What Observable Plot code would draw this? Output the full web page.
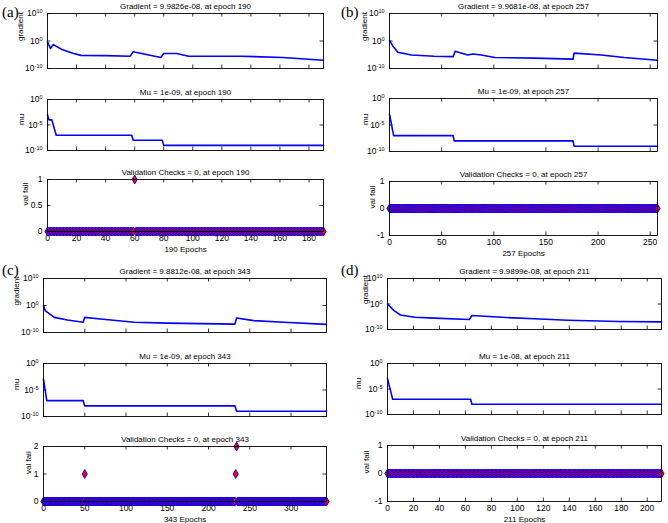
<!DOCTYPE html>
<html><head><meta charset="utf-8">
<script src="https://cdn.jsdelivr.net/npm/d3@7"></script>
<script src="https://cdn.jsdelivr.net/npm/@observablehq/plot@0.6"></script>
<style>
body{margin:0;background:#fff;}
#chart{position:relative;width:668px;height:523px;overflow:hidden;background:#fff;}
#chart svg{position:absolute;}
.plabel{position:absolute;font-family:"Liberation Serif","Times New Roman",serif;font-size:15px;color:#000;line-height:1;}
</style></head><body><div id="chart"></div>
<script>
// ---------------- data ----------------
const panelLetters = ["(a)", "(b)", "(c)", "(d)"];
const totalEpochs = [190, 257, 343, 211];
const epochTicksA = [0, 20, 40, 60, 80, 100, 120, 140, 160, 180];
const epochTicksB = [0, 50, 100, 150, 200, 250];
const epochTicksC = [0, 50, 100, 150, 200, 250, 300];
const epochTicksD = [0, 20, 40, 60, 80, 100, 120, 140, 160, 180, 200];
const logTicksGrad = [1e-10, 1, 1e10];
const logTicksMu = [1e-10, 1e-5, 1];

const gradTitles = ["Gradient = 9.9826e-08, at epoch 190", "Gradient = 9.9681e-08, at epoch 257", "Gradient = 9.8812e-08, at epoch 343", "Gradient = 9.9899e-08, at epoch 211"];
const muTitles = ["Mu = 1e-09, at epoch 190", "Mu = 1e-09, at epoch 257", "Mu = 1e-09, at epoch 343", "Mu = 1e-08, at epoch 211"];
const valTitles = ["Validation Checks = 0, at epoch 190", "Validation Checks = 0, at epoch 257", "Validation Checks = 0, at epoch 343", "Validation Checks = 0, at epoch 211"];
const epochLabels = ["190 Epochs", "257 Epochs", "343 Epochs", "211 Epochs"];

// gradient curves (epoch, gradient)
const gradEpochsA = [0, 2, 4, 10, 18, 23, 40, 57, 59, 78, 80, 89, 97, 133, 162, 190];
const gradValuesA = [5e-1, 2e-3, 5e-2, 8e-4, 3e-5, 6e-6, 5e-6, 3e-6, 1.3e-4, 1e-6, 3e-5, 3e-5, 3e-6, 3e-6, 1e-6, 9.98e-8];
const gradEpochsB = [0, 3, 8, 21, 43, 61, 63, 75, 80, 88, 101, 139, 176, 177, 203, 225, 257];
const gradValuesB = [1.6, 2e-2, 8e-5, 8e-6, 3e-6, 2e-6, 2e-4, 8e-6, 2e-5, 8e-6, 1e-6, 6e-7, 2.5e-7, 4e-5, 8e-6, 1e-6, 9.97e-8];
const gradEpochsC = [0, 2, 13, 29, 48, 50, 69, 110, 150, 190, 232, 234, 255, 291, 343];
const gradValuesC = [1, 1.3e-2, 4e-5, 4e-6, 6e-7, 4e-5, 1e-5, 6e-7, 3e-7, 2e-7, 1.3e-7, 2.5e-5, 2.5e-6, 6e-7, 9.88e-8];
const gradEpochsD = [0, 5, 10, 21, 36, 63, 65, 88, 113, 139, 178, 211];
const gradValuesD = [1, 2.5e-3, 5e-5, 6e-6, 3e-6, 8e-7, 3e-5, 6e-6, 1.6e-6, 4e-7, 1.3e-7, 9.99e-8];

// mu curves (epoch, mu)
const muEpochsA = [0, 1, 3, 4, 5, 6, 58, 59, 79, 80, 190];
const muValuesA = [1e-3, 1e-4, 1e-4, 1e-5, 1e-6, 1e-7, 1e-7, 1e-8, 1e-8, 1e-9, 1e-9];
const muEpochsB = [0, 1, 2, 3, 4, 61, 62, 176, 177, 257];
const muValuesB = [1e-3, 1e-4, 1e-5, 1e-6, 1e-7, 1e-7, 1e-8, 1e-8, 1e-9, 1e-9];
const muEpochsC = [0, 1, 2, 3, 4, 48, 50, 232, 234, 343];
const muValuesC = [1e-3, 1e-4, 1e-5, 1e-6, 1e-7, 1e-7, 1e-8, 1e-8, 1e-9, 1e-9];
const muEpochsD = [0, 1, 2, 3, 4, 64, 65, 211];
const muValuesD = [1e-3, 1e-4, 1e-5, 1e-6, 1e-7, 1e-7, 1e-8, 1e-8];

// validation failures (all other epochs are 0)
const valFailEpochsA = [60];
const valFailValuesA = [1];
const valFailEpochsB = [];
const valFailValuesB = [];
const valFailEpochsC = [50, 233, 234];
const valFailValuesC = [1, 1, 2];
const valFailEpochsD = [];
const valFailValuesD = [];
const valTicksA = [0, 0.5, 1];
const valTicksB = [-1, 0, 1];
const valTicksC = [0, 1, 2];
const valTicksD = [-1, 0, 1];

// ---------------- layout ----------------
const frames = [
  {grad: [47, 13, 323, 68], mu: [47, 99, 323, 150], val: [47, 179, 323, 231], ylab: [-27, -26.5, -22], lab: [2, 5]},
  {grad: [389, 13, 657, 68], mu: [389, 98, 657, 151], val: [389, 181, 657, 235], ylab: [-25, -24.5, -17], lab: [341, 5]},
  {grad: [43, 278, 326, 332], mu: [43, 363, 326, 416], val: [43, 446, 326, 501], ylab: [-27.5, -27.5, -15], lab: [2, 263]},
  {grad: [387, 278, 661, 329], mu: [387, 363, 661, 414], val: [387, 445, 661, 501], ylab: [-22.5, -29.5, -21.5], lab: [341, 263]}
];

const FONT = "'Liberation Sans', Arial, sans-serif";
const chart = document.getElementById("chart");
const zip = (xs, ys) => xs.map((x, i) => ({epoch: x, value: ys[i]}));
const logFmt = d => "10^" + Math.round(Math.log10(d));

function supTicks(svg) {
  svg.querySelectorAll("text").forEach(t => {
    const m = /^10\^(-?\d+)$/.exec(t.textContent);
    if (m) {
      t.textContent = "10";
      const ts = document.createElementNS("http://www.w3.org/2000/svg", "tspan");
      ts.setAttribute("dy", "-0.5em");
      ts.setAttribute("font-size", "5.5");
      ts.textContent = m[1];
      t.appendChild(ts);
    }
  });
}

function subplot(fr, cfg) {
  const [x0, y0, x1, y1] = fr;
  const ML = 50, MR = 14, MT = 20, MB = 30;
  const pw = x1 - x0, ph = y1 - y0;
  const T = 3.5;
  const marks = [
    Plot.tickX(cfg.xticks, {x: d => d, insetTop: ph - T, stroke: "#000", strokeWidth: 0.8}),
    Plot.tickX(cfg.xticks, {x: d => d, insetBottom: ph - T, stroke: "#000", strokeWidth: 0.8}),
    Plot.tickY(cfg.yticks, {y: d => d, insetRight: pw - T, stroke: "#000", strokeWidth: 0.8}),
    Plot.tickY(cfg.yticks, {y: d => d, insetLeft: pw - T, stroke: "#000", strokeWidth: 0.8}),
    Plot.axisY({ticks: cfg.yticks, tickSize: 0, tickPadding: 5, tickFormat: cfg.yfmt, label: null, fill: "#000", fontSize: 8.5}),
    ...cfg.marks,
    Plot.frame({stroke: "#000", strokeWidth: 0.9}),
    Plot.text([cfg.title], {text: d => d, frameAnchor: "top", dy: -5, lineAnchor: "bottom", fill: "#000"}),
    Plot.text([cfg.ylabel], {text: d => d, frameAnchor: "left", dx: cfg.ylabDx, rotate: -90, fill: "#000"})
  ];
  if (cfg.xlabel) {
    marks.push(
      Plot.axisX({ticks: cfg.xticks, tickSize: 0, tickPadding: 3, label: null, tickFormat: d => String(d), fill: "#000", fontSize: 8.5}),
      Plot.text([cfg.xlabel], {text: d => d, frameAnchor: "bottom", dy: 20, lineAnchor: "bottom", fill: "#000"})
    );
  }
  const svg = Plot.plot({
    width: pw + ML + MR, height: ph + MT + MB,
    marginLeft: ML, marginRight: MR, marginTop: MT, marginBottom: MB,
    style: {background: "transparent", overflow: "visible", maxWidth: "none", fontFamily: FONT, fontSize: "8px", color: "#000"},
    x: {domain: [0, cfg.xmax], axis: cfg.xlabel ? undefined : null},
    y: cfg.y,
    marks
  });
  supTicks(svg);
  svg.style.left = (x0 - ML) + "px";
  svg.style.top = (y0 - MT) + "px";
  chart.appendChild(svg);
}

const gradData = [zip(gradEpochsA, gradValuesA), zip(gradEpochsB, gradValuesB), zip(gradEpochsC, gradValuesC), zip(gradEpochsD, gradValuesD)];
const muData = [zip(muEpochsA, muValuesA), zip(muEpochsB, muValuesB), zip(muEpochsC, muValuesC), zip(muEpochsD, muValuesD)];
const valFail = [[valFailEpochsA, valFailValuesA], [valFailEpochsB, valFailValuesB], [valFailEpochsC, valFailValuesC], [valFailEpochsD, valFailValuesD]];
const valTicks = [valTicksA, valTicksB, valTicksC, valTicksD];
const epochTicks = [epochTicksA, epochTicksB, epochTicksC, epochTicksD];

for (let p = 0; p < 4; p++) {
  const F = frames[p];
  const n = totalEpochs[p];
  const lineOpts = {x: "epoch", y: "value", stroke: "#0000ff", strokeWidth: 1.6};
  subplot(F.grad, {
    xmax: n, xticks: epochTicks[p], yticks: logTicksGrad, yfmt: logFmt,
    y: {type: "log", domain: [1e-10, 1e10]},
    title: gradTitles[p], ylabel: "gradient", ylabDx: F.ylab[0],
    marks: [Plot.line(gradData[p], lineOpts)]
  });
  subplot(F.mu, {
    xmax: n, xticks: epochTicks[p], yticks: logTicksMu, yfmt: logFmt,
    y: {type: "log", domain: [1e-10, 1]},
    title: muTitles[p], ylabel: "mu", ylabDx: F.ylab[1],
    marks: [Plot.line(muData[p], lineOpts)]
  });
  const [fe, fv] = valFail[p];
  const vt = valTicks[p];
  const vals = d3.range(0, n + 1).map(e => {
    const i = fe.indexOf(e);
    return {epoch: e, value: i >= 0 ? fv[i] : 0};
  });
  subplot(F.val, {
    xmax: n, xticks: epochTicks[p], yticks: vt, yfmt: d => String(d),
    y: {domain: [vt[0], vt[vt.length - 1]]},
    title: valTitles[p], ylabel: "val fail", ylabDx: F.ylab[2],
    xlabel: epochLabels[p],
    marks: [Plot.dot(vals, {x: "epoch", y: "value", symbol: "diamond", r: 2.7, fill: "#ff0000", stroke: "#0000ff", strokeWidth: 0.9})]
  });
  const lab = document.createElement("div");
  lab.className = "plabel";
  lab.textContent = panelLetters[p];
  lab.style.left = F.lab[0] + "px";
  lab.style.top = F.lab[1] + "px";
  chart.appendChild(lab);
}
</script>
</body></html>
